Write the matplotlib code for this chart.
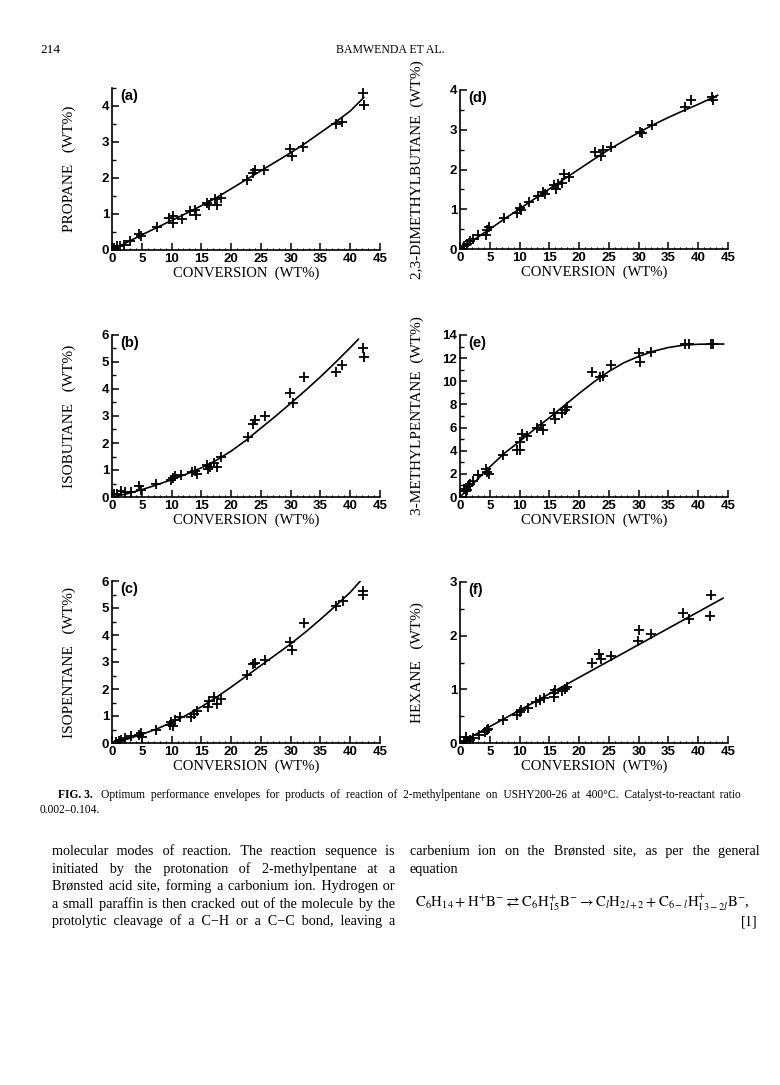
import matplotlib
matplotlib.use('Agg')
import matplotlib.pyplot as plt
from matplotlib.ticker import MultipleLocator

W, H = 780, 1085

# ---- data ----
# (a) propane
a_x = [0.3, 0.8, 1.4, 2.0, 3.1, 4.6, 4.9, 7.5, 9.5, 10.3, 10.3, 11.7, 13.1, 13.9, 14.1,
       15.9, 16.3, 17.3, 17.6, 18.3, 22.6, 23.6, 24.0, 25.5, 29.9, 30.3, 32.1, 37.6, 38.7,
       42.1, 42.3]
a_y = [0.05, 0.1, 0.1, 0.15, 0.25, 0.45, 0.38, 0.65, 0.9, 0.95, 0.75, 0.87, 1.08, 1.12, 0.98,
       1.3, 1.25, 1.43, 1.25, 1.45, 1.95, 2.15, 2.22, 2.22, 2.81, 2.62, 2.86, 3.51, 3.56,
       4.36, 4.03]
a_cx = [0, 2.5, 5, 7.5, 10, 12.5, 15, 17.5, 20, 22.5, 25, 27.5, 30, 32.5, 35, 37.5, 40, 42.3]
a_cy = [0, 0.21, 0.42, 0.62, 0.82, 1.02, 1.23, 1.45, 1.7, 1.95, 2.2, 2.45, 2.7, 2.97, 3.26,
        3.55, 3.86, 4.24]

# (b) isobutane
b_x = [0.3, 0.9, 1.5, 2.1, 3.2, 4.6, 4.9, 7.4, 9.9, 10.2, 10.5, 11.6, 13.4, 14.0, 14.2,
       15.9, 16.2, 16.5, 17.2, 17.6, 18.3, 22.8, 23.7, 24.0, 25.7, 29.9, 30.4, 32.3, 37.6,
       38.7, 42.2, 42.3]
b_y = [0.1, 0.12, 0.21, 0.19, 0.19, 0.41, 0.27, 0.47, 0.62, 0.7, 0.78, 0.8, 0.93, 0.97, 0.85,
       1.18, 1.02, 1.12, 1.27, 1.12, 1.47, 2.22, 2.7, 2.86, 2.99, 3.84, 3.49, 4.46, 4.63,
       4.88, 5.5, 5.17]
b_cx = [0, 2.5, 5, 7.5, 10, 12.5, 15, 17.5, 20, 22.5, 25, 27.5, 30, 32.5, 35, 37.5, 40, 41.4]
b_cy = [0, 0.12, 0.27, 0.45, 0.64, 0.85, 1.08, 1.36, 1.7, 2.1, 2.55, 3.0, 3.47, 3.95, 4.45,
        4.98, 5.53, 5.85]

# (c) isopentane
c_x = [0.6, 1.2, 1.5, 2.1, 3.2, 4.6, 4.8, 5.0, 7.4, 9.7, 9.9, 10.3, 10.5, 11.5, 13.2, 13.8,
       14.3, 16.1, 16.3, 17.2, 17.6, 18.3, 22.7, 23.7, 24.0, 25.7, 29.9, 30.3, 32.2, 37.6,
       38.8, 42.1, 42.2]
c_y = [0.03, 0.09, 0.12, 0.18, 0.27, 0.28, 0.37, 0.21, 0.47, 0.68, 0.78, 0.64, 0.86, 0.95,
       0.98, 1.08, 1.17, 1.35, 1.56, 1.7, 1.44, 1.63, 2.52, 2.92, 2.98, 3.08, 3.73, 3.45,
       4.43, 5.09, 5.26, 5.63, 5.48]
c_cx = [0, 2.5, 5, 7.5, 10, 12.5, 15, 17.5, 20, 22.5, 25, 27.5, 30, 32.5, 35, 37.5, 40, 41.7]
c_cy = [0, 0.14, 0.32, 0.52, 0.76, 1.03, 1.34, 1.69, 2.07, 2.47, 2.87, 3.27, 3.67, 4.11, 4.58,
        5.07, 5.58, 6.0]

# (d) 2,3-dimethylbutane
d_x = [0.6, 1.1, 1.7, 2.2, 3.1, 4.4, 4.6, 4.9, 7.4, 9.6, 10.1, 10.3, 11.6, 13.1, 13.9, 14.3,
       15.8, 16.1, 16.4, 17.2, 17.5, 18.3, 22.6, 23.6, 24.0, 25.4, 30.2, 30.5, 32.2, 37.7,
       38.8, 42.3, 42.5]
d_y = [0.07, 0.13, 0.19, 0.25, 0.36, 0.34, 0.47, 0.55, 0.79, 0.91, 1.04, 0.97, 1.19, 1.34,
       1.44, 1.38, 1.61, 1.5, 1.63, 1.67, 1.89, 1.82, 2.45, 2.35, 2.48, 2.56, 2.94, 2.93,
       3.13, 3.56, 3.76, 3.83, 3.75]
d_cx = [0, 2.5, 5, 7.5, 10, 12.5, 15, 17.5, 20, 22.5, 25, 27.5, 30, 32.5, 35, 37.5, 40, 43.3]
d_cy = [0, 0.25, 0.5, 0.76, 1.01, 1.26, 1.51, 1.76, 2.01, 2.26, 2.5, 2.72, 2.93, 3.13, 3.31,
        3.48, 3.64, 3.87]

# (e) 3-methylpentane
e_x = [0.6, 1.0, 1.2, 1.4, 1.7, 2.1, 3.1, 4.4, 4.6, 4.9, 7.2, 9.5, 10.0, 10.1, 10.4, 11.3,
       13.0, 13.6, 14.0, 15.8, 16.0, 17.2, 17.6, 18.0, 22.2, 23.5, 24.0, 25.4, 30.0, 30.3,
       32.0, 37.7, 38.5, 42.1, 42.5]
e_y = [0.72, 0.52, 0.64, 0.95, 1.15, 1.39, 1.88, 2.4, 2.17, 2.02, 3.67, 4.04, 4.04, 4.76,
       5.48, 5.25, 6.0, 6.2, 5.77, 7.27, 6.7, 7.27, 7.5, 7.74, 10.83, 10.4, 10.45, 11.4,
       12.47, 11.7, 12.56, 13.22, 13.2, 13.22, 13.22]
e_cx = [0, 2.5, 5, 7.5, 10, 12.5, 15, 17.5, 20, 22.5, 25, 27.5, 30, 32.5, 35, 37.5, 40, 42.5, 44.3]
e_cy = [0, 1.3, 2.6, 3.8, 4.8, 5.85, 6.85, 7.9, 8.95, 9.95, 10.85, 11.6, 12.15, 12.6, 12.92,
        13.12, 13.2, 13.22, 13.22]

# (f) hexane
f_x = [0.6, 1.0, 1.2, 1.7, 2.2, 3.2, 4.2, 4.5, 4.7, 7.3, 9.5, 10.0, 10.2, 11.5, 12.8, 13.4,
       14.1, 15.8, 15.8, 16.0, 17.2, 17.6, 18.0, 22.2, 23.4, 23.6, 25.3, 29.9, 30.1, 32.0,
       37.5, 38.4, 42.0, 42.2]
f_y = [0.03, 0.11, 0.04, 0.06, 0.09, 0.14, 0.2, 0.24, 0.27, 0.43, 0.53, 0.58, 0.62, 0.66,
       0.77, 0.8, 0.83, 0.94, 0.85, 0.99, 0.97, 1.0, 1.04, 1.49, 1.65, 1.57, 1.62, 1.9, 2.11,
       2.03, 2.43, 2.31, 2.37, 2.75]
f_cx = [0, 44.2]
f_cy = [0, 2.7]

x_ticks = [0, 5, 10, 15, 20, 25, 30, 35, 40, 45]

plt.rcParams['mathtext.fontset'] = 'stix'
serif = 'Liberation Serif'
sans = 'Liberation Sans'
serif_fam = [serif, 'DejaVu Serif']

fig = plt.figure(figsize=(W / 100, H / 100), dpi=100)

# label, ylabel, data, ytop, ymajor, yminor, left px, top px, bottom px
panels = [
    ('(a)', 'PROPANE   (WT%)', a_x, a_y, a_cx, a_cy, 4.5, 1, 0.5, 112, 88, 250),
    ('(b)', 'ISOBUTANE   (WT%)', b_x, b_y, b_cx, b_cy, 6, 1, 0.5, 112, 335, 497),
    ('(c)', 'ISOPENTANE   (WT%)', c_x, c_y, c_cx, c_cy, 6, 1, 0.5, 112, 581, 743),
    ('(d)', '2,3-DIMETHYLBUTANE  (WT%)', d_x, d_y, d_cx, d_cy, 4, 1, 0.5, 460, 90, 249),
    ('(e)', '3-METHYLPENTANE  (WT%)', e_x, e_y, e_cx, e_cy, 14, 2, 1, 460, 335, 497),
    ('(f)', 'HEXANE   (WT%)', f_x, f_y, f_cx, f_cy, 3, 1, 0.5, 460, 582, 743),
]

for lab, ylab, px, py, cx, cy, ytop, ymaj, ymin, l, t, b in panels:
    ax = fig.add_axes([l / W, 1 - b / H, 268 / W, (b - t) / H])
    ax.plot(cx, cy, color='black', lw=1.2, solid_capstyle='round')
    ax.plot(px, py, '+', color='black', ms=7, mew=1.3, ls='none')
    ax.set_xlim(0, 45)
    ax.set_ylim(0, ytop)
    ax.set_xticks(x_ticks)
    ax.xaxis.set_minor_locator(MultipleLocator(1))
    ax.yaxis.set_major_locator(MultipleLocator(ymaj))
    ax.yaxis.set_minor_locator(MultipleLocator(ymin))
    for s in ['top', 'right']:
        ax.spines[s].set_visible(False)
    for s in ['left', 'bottom']:
        ax.spines[s].set_linewidth(1.2)
    ax.tick_params(which='major', direction='in', length=5, width=1.1, pad=2,
                   labelsize=9.5)
    ax.tick_params(axis='x', which='minor', direction='in', length=1.5, width=0.8)
    ax.tick_params(axis='y', which='minor', direction='in', length=3, width=1.0)
    for tl in ax.get_xticklabels() + ax.get_yticklabels():
        tl.set_fontfamily(sans)
        tl.set_fontweight('bold')
    ax.set_xlabel('CONVERSION  (WT%)', fontsize=10.5, family=serif)
    ax.xaxis.set_label_coords(0.5, -0.105)
    ax.set_ylabel(ylab, fontsize=11, family=serif)
    ax.yaxis.set_label_coords(-0.135, 0.5)
    ax.text(0.03, 0.995, lab, transform=ax.transAxes, va='top', ha='left',
            fontsize=10.5, family=sans, fontweight='bold')

# ---- page text ----
fig.text(40 / W, 1 - 50 / H, '214', fontsize=9.5, family=serif, va='center')
fig.text(390 / W, 1 - 50 / H, 'BAMWENDA ET AL.', fontsize=8.5, family=serif,
         va='center', ha='center')

r = fig.canvas.get_renderer()


def text_w(s, size, weight):
    tt = fig.text(0, 0, s, fontsize=size, family=serif_fam, fontweight=weight)
    w = tt.get_window_extent(r).width
    tt.remove()
    return w


def justify(line, x0, x1, y, size, weight='normal'):
    # one text per line; word gaps are padded with spaces and hair spaces
    words = line.split(' ')
    ww = [text_w(w, size, weight) for w in words]
    base = text_w('xx', size, weight)
    sp = (text_w('x' + ' ' * 20 + 'x', size, weight) - base) / 20
    hs = (text_w('x' + '\u200a' * 20 + 'x', size, weight) - base) / 20
    gap = (x1 - x0 - sum(ww)) / max(len(words) - 1, 1)
    s = words[0]
    pos = target = ww[0]
    for w, wi in zip(words[1:], ww[1:]):
        target += gap
        need = target - pos
        k = max(1, int(need // sp))
        m = max(0, int(round((need - k * sp) / hs))) if hs > 0 else 0
        s += ' ' * k + '\u200a' * m + w
        pos += k * sp + m * hs + wi
        target += wi
    fig.text(x0 / W, 1 - y / H, s, fontsize=size, family=serif_fam,
             fontweight=weight, va='baseline')


fig_lab = fig.text(58 / W, 1 - 798 / H, 'FIG. 3.', fontsize=8.3, family=serif,
                   fontweight='bold', va='baseline')
lw_ = fig_lab.get_window_extent(r).width
justify('Optimum performance envelopes for products of reaction of 2-methylpentane on '
        'USHY200-26 at 400°C. Catalyst-to-reactant ratio', 58 + lw_ + 8, 741, 798, 8.3)
fig.text(40 / W, 1 - 813 / H, '0.002–0.104.', fontsize=8.3, family=serif, va='baseline')

left_lines = [
    'molecular modes of reaction. The reaction sequence is',
    'initiated by the protonation of 2-methylpentane at a',
    'Brønsted acid site, forming a carbonium ion. Hydrogen or',
    'a small paraffin is then cracked out of the molecule by the',
    'protolytic cleavage of a C\u2212H or a C\u2212C bond, leaving a',
]
for i, ln in enumerate(left_lines):
    justify(ln, 52, 395, 855 + i * 17.6, 10.2)

justify('carbenium ion on the Brønsted site, as per the general', 410, 760, 855, 10.2)
fig.text(410 / W, 1 - (855 + 17.6) / H, 'equation', fontsize=10.2, family=serif,
         va='baseline')
eq = (r'$\mathrm{C_6H_{14} + H^{+}B^{-} \rightleftarrows C_6H^{+}_{15}B^{-} \rightarrow '
      r'C_{\mathit{l}}H_{2\mathit{l}+2} + C_{6-\mathit{l}}H^{+}_{13-2\mathit{l}}B^{-}}$,')
fig.text(750 / W, 1 - 903 / H, eq, fontsize=10.6, family=serif, va='center', ha='right')
fig.text(757 / W, 1 - 921 / H, r'[$\mathit{1}$]', fontsize=10.2, family=serif,
         va='center', ha='right')

fig.savefig('out.png', dpi=100)
